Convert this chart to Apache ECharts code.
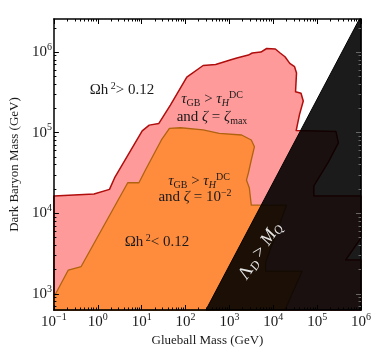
<!DOCTYPE html>
<html>
<head>
  <meta charset="utf-8">
  <title>Glueball vs Dark Baryon</title>
  <script src="https://cdn.jsdelivr.net/npm/echarts@6/dist/echarts.min.js"></script>
  <style>
    html, body { margin: 0; padding: 0; background: #fff; }
    #main { width: 374px; height: 353px; }
  </style>
</head>
<body>
  <div id="main"></div>
  <script type="text/javascript">
    // region boundaries (GeV)
    // tau_GB > tau_H^DC and zeta = zeta_max
    var pinkGlueball = [0.1, 0.82, 1.85, 2.41, 10.3, 14.9, 24.7, 45.2, 107, 252, 486, 1040, 1477, 2710, 3315,
      5220, 7080, 11150, 14350, 18500, 23800, 30600, 33900, 32200, 42900, 48300, 39500, 33300,
      2.69e5, 3.05e5, 1.80e5, 8.41e4, 8.41e4, 1e6, 1e6, 4.46e5, 1e6, 1e6, 0.1];
    var pinkBaryon = [1.64e4, 1.73e4, 1.98e4, 2.74e4, 1.05e5, 1.24e5, 1.30e5, 2.20e5, 4.90e5, 6.81e5, 7.0e5, 7.96e5, 8.43e5, 9.18e5, 9.73e5,
      1.0e6, 1.107e6, 1.09e6, 9.73e5, 8.75e5, 7.24e5, 6.58e5, 5.50e5, 3.22e5, 3.08e5, 2.47e5, 1.66e5, 1.06e5,
      1.03e5, 7.45e4, 4.32e4, 2.18e4, 1.64e4, 1.64e4, 4.93e3, 2.63e3, 2.63e3, 631, 631];

    // tau_GB > tau_H^DC and zeta = 1e-2
    var orangeGlueball = [0.1, 0.1, 0.213, 0.418, 4.82, 8.67, 12.2, 28.2, 43.0, 77.6, 252, 586, 1900, 3155, 3725,
      3155, 2710, 2450, 2850, 3155, 2.01e4, 6730, 6730, 4.59e4, 1.85e4];
    var orangeBaryon = [631, 914, 1977, 2183, 2.39e4, 2.39e4, 3.44e4, 8.11e4, 1.13e5, 1.15e5, 1.08e5, 9.82e4, 9.35e4, 8.11e4, 6.70e4,
      4.58e4, 3.16e4, 2.58e4, 2.06e4, 1.26e4, 1.26e4, 2.48e3, 1920, 1920, 631];

    // Lambda_D > M_Q excluded wedge
    var lambdaGlueball = [291.6, 9.22e5, 1e6, 1e6];
    var lambdaBaryon = [631, 2.57e6, 2.57e6, 631];

    var xExponents = [-1, 0, 1, 2, 3, 4, 5, 6];
    var yExponents = [3, 4, 5, 6];

    var xMinLog = -1, xMaxLog = 6, yMinLog = 2.8, yMaxLog = 6.41;
    var serif = 'Liberation Serif';

    function minorTicks(lo, hi) {
      var out = [];
      for (var n = Math.floor(lo) - 1; n <= Math.ceil(hi); n++) {
        for (var k = 2; k <= 9; k++) {
          var v = n + Math.log10(k);
          if (v > lo && v < hi) out.push(v);
        }
      }
      return out;
    }
    var xMinor = minorTicks(xMinLog, xMaxLog);
    var yMinor = minorTicks(yMinLog, yMaxLog);

    function toPoints(xs, ys) {
      var pts = [];
      for (var i = 0; i < xs.length; i++) pts.push([Math.log10(xs[i]), Math.log10(ys[i])]);
      return pts;
    }

    function polygonSeries(pts, fill, stroke, lw, z) {
      return {
        type: 'custom',
        coordinateSystem: 'cartesian2d',
        xAxisIndex: 0,
        yAxisIndex: 0,
        z: z,
        silent: true,
        data: pts,
        renderItem: function (params, api) {
          if (params.dataIndex !== 0) return null;
          var p = [];
          for (var i = 0; i < pts.length; i++) p.push(api.coord(pts[i]));
          return {
            type: 'polygon',
            shape: { points: p },
            style: { fill: fill, stroke: stroke, lineWidth: lw, lineJoin: 'round' }
          };
        }
      };
    }

    var powRich = {
      b: { fontFamily: serif, fontSize: 15, lineHeight: 20, color: '#1a1a1a' },
      s: { fontFamily: serif, fontSize: 10, lineHeight: 10, verticalAlign: 'top', color: '#1a1a1a' }
    };
    function powLabel(v) {
      var e = Math.round(v);
      return '{b|10}{s|' + (e < 0 ? '\u2212' + (-e) : e) + '}';
    }

    function axisPair(pos, lo, hi, major, minor, withLabel, tickColor) {
      var main = {
        type: 'value', position: pos, min: lo, max: hi, z: 5,
        axisLine: { show: true, onZero: false, lineStyle: { color: '#000', width: 1.5 } },
        axisTick: { show: true, inside: true, length: 5, customValues: major, lineStyle: { color: tickColor, width: 1 } },
        axisLabel: withLabel ? { show: true, customValues: major, formatter: powLabel, rich: powRich, margin: 2 } : { show: false },
        splitLine: { show: false }
      };
      var sub = {
        type: 'value', position: pos, min: lo, max: hi, z: 5,
        axisLine: { show: false, onZero: false },
        axisTick: { show: true, inside: true, length: 2.5, customValues: minor, lineStyle: { color: tickColor, width: 1 } },
        axisLabel: { show: false },
        splitLine: { show: false }
      };
      return [main, sub];
    }

    var xAxes = axisPair('bottom', xMinLog, xMaxLog, xExponents, xMinor, true, '#000')
      .concat(axisPair('top', xMinLog, xMaxLog, xExponents, xMinor, false, '#000'));
    var yAxes = axisPair('left', yMinLog, yMaxLog, yExponents, yMinor, true, '#000')
      .concat(axisPair('right', yMinLog, yMaxLog, yExponents, yMinor, false, '#666'));

    xAxes[0].name = 'Glueball Mass (GeV)';
    xAxes[0].nameLocation = 'middle';
    xAxes[0].nameGap = 23;
    xAxes[0].nameTextStyle = { fontFamily: serif, fontSize: 13, color: '#1a1a1a' };
    yAxes[0].name = 'Dark Baryon Mass (GeV)';
    yAxes[0].nameLocation = 'middle';
    yAxes[0].nameGap = 27;
    yAxes[0].nameTextStyle = { fontFamily: serif, fontSize: 13, color: '#1a1a1a' };

    var txt = '#1a1a1a';
    var rich = {
      t: { fontFamily: serif, fontSize: 15, lineHeight: 18, fill: txt },
      ti: { fontFamily: serif, fontSize: 15, lineHeight: 18, fontStyle: 'italic', fill: txt },
      sub: { fontFamily: serif, fontSize: 10, lineHeight: 10, verticalAlign: 'bottom', fill: txt },
      subi: { fontFamily: serif, fontSize: 10, lineHeight: 10, verticalAlign: 'bottom', fontStyle: 'italic', fill: txt },
      sup: { fontFamily: serif, fontSize: 10, lineHeight: 10, verticalAlign: 'top', fill: txt }
    };
    var richW = {
      t: { fontFamily: serif, fontSize: 18, lineHeight: 21, fill: '#e6e6e6' },
      ti: { fontFamily: serif, fontSize: 18, lineHeight: 21, fontStyle: 'italic', fill: '#e6e6e6' },
      subi: { fontFamily: serif, fontSize: 12, lineHeight: 12, verticalAlign: 'bottom', fontStyle: 'italic', fill: '#e6e6e6' }
    };

    function note(x, y, text, r, rot) {
      return {
        type: 'text', x: x, y: y, z: 10, rotation: rot || 0,
        style: { text: text, rich: r || rich, align: 'center', verticalAlign: 'middle' }
      };
    }

    var chart = echarts.init(document.getElementById('main'));
    chart.setOption({
      animation: false,
      grid: { left: 45, right: 10, top: 19, bottom: 43, containLabel: false },
      xAxis: xAxes,
      yAxis: yAxes,
      series: [
        polygonSeries(toPoints(pinkGlueball, pinkBaryon), '#ff9a9a', '#b00d0d', 1.5, 1),
        polygonSeries(toPoints(orangeGlueball, orangeBaryon), '#ff8b3d', '#b0630f', 1.3, 2),
        polygonSeries(toPoints(lambdaGlueball, lambdaBaryon), 'rgba(0,0,0,0.895)', '#000', 1, 3)
      ],
      graphic: [
        note(122, 90, '{t|Ωh}{sup| 2}{t|> 0.12}'),
        note(212, 99, '{ti|τ}{sub|GB}{t| > }{ti|τ}{subi|H}{sup|DC}'),
        note(212, 117, '{t|and }{ti|ζ}{t| = }{ti|ζ}{sub|max}'),
        note(199, 181, '{ti|τ}{sub|GB}{t| > }{ti|τ}{subi|H}{sup|DC}'),
        note(195, 197, '{t|and }{ti|ζ}{t| = 10}{sup|−2}'),
        note(157, 242, '{t|Ωh}{sup| 2}{t|< 0.12}'),
        note(260, 251, '{t|Λ}{subi|D}{t| > }{ti|M}{subi|Q}', richW, 57 * Math.PI / 180)
      ]
    });
  </script>
</body>
</html>
